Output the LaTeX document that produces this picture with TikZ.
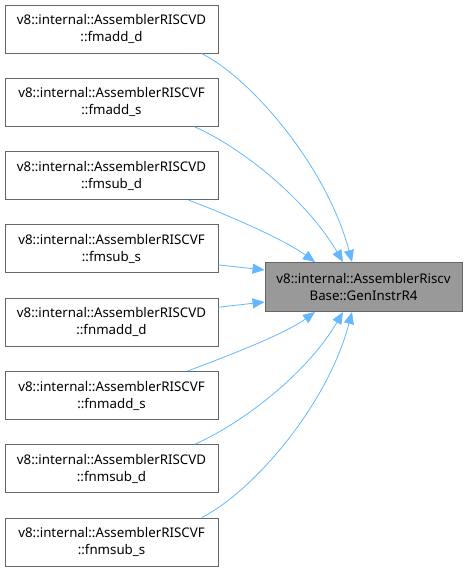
\documentclass[tikz,border=0pt]{standalone}
\usepackage{fontspec}
\setmainfont{Noto Sans}
\usepackage{xcolor}
\usetikzlibrary{arrows.meta, calc}
\definecolor{edgeblue}{HTML}{63B8FF}
\definecolor{boxline}{HTML}{666666}
\definecolor{focusfill}{HTML}{999999}

\begin{document}
\begin{tikzpicture}[x=1pt, y=-1pt,
    every node/.style={draw=boxline, line width=0.9pt, align=center, inner sep=0pt,
        font=\fontsize{13.3}{17}\selectfont},
    caller/.style={fill=white, minimum width=213pt, minimum height=48pt},
    focus/.style={fill=focusfill, minimum width=197pt, minimum height=49pt},
    calls/.style={draw=edgeblue, line width=0.8pt,
        -{Triangle[length=12pt, width=10pt, color=edgeblue]}}]
    \useasboundingbox (0,0) rectangle (467,573);
    \node[focus] (gen) at (363.5,287) {v8::internal::AssemblerRiscv\\Base::GenInstrR4};
    \node[caller] (fmaddd) at (111.5,29) {v8::internal::AssemblerRISCVD\\::fmadd\_d};
    \node[caller] (fmadds) at (111.5,102.3) {v8::internal::AssemblerRISCVF\\::fmadd\_s};
    \node[caller] (fmsubd) at (111.5,175.6) {v8::internal::AssemblerRISCVD\\::fmsub\_d};
    \node[caller] (fmsubs) at (111.5,248.9) {v8::internal::AssemblerRISCVF\\::fmsub\_s};
    \node[caller] (fnmaddd) at (111.5,322.2) {v8::internal::AssemblerRISCVD\\::fnmadd\_d};
    \node[caller] (fnmadds) at (111.5,395.5) {v8::internal::AssemblerRISCVF\\::fnmadd\_s};
    \node[caller] (fnmsubd) at (111.5,468.8) {v8::internal::AssemblerRISCVD\\::fnmsub\_d};
    \node[caller] (fnmsubs) at (111.5,542.1) {v8::internal::AssemblerRISCVF\\::fnmsub\_s};

    % callers above the focus box
    \draw[calls] ([xshift=-17pt]fmaddd.south east)
        .. controls +(50,25) and +(-25,-95) .. ([xshift=-11.5pt]gen.north);
    \draw[calls] ([xshift=-24pt]fmadds.south east)
        .. controls +(50,22) and +(-35,-60) .. ([xshift=-20.5pt]gen.north);
    \draw[calls] ([xshift=-30pt]fmsubd.south east)
        .. controls +(40,15) and +(-30,-22) .. ([xshift=-48.5pt]gen.north);
    \draw[calls] ([yshift=-16pt]fmsubs.east) -- ([yshift=17pt]gen.west);
    % callers below the focus box
    \draw[calls] ([yshift=15pt]fnmaddd.east) -- ([yshift=-15pt]gen.west);
    \draw[calls] ([xshift=-31pt]fnmadds.north east)
        .. controls +(40,-15) and +(-30,22) .. ([xshift=-48.5pt]gen.south);
    \draw[calls] ([xshift=-24pt]fnmsubd.north east)
        .. controls +(50,-22) and +(-35,60) .. ([xshift=-20.5pt]gen.south);
    \draw[calls] ([xshift=-17pt]fnmsubs.north east)
        .. controls +(50,-25) and +(-25,95) .. ([xshift=-11.5pt]gen.south);
\end{tikzpicture}
\end{document}
